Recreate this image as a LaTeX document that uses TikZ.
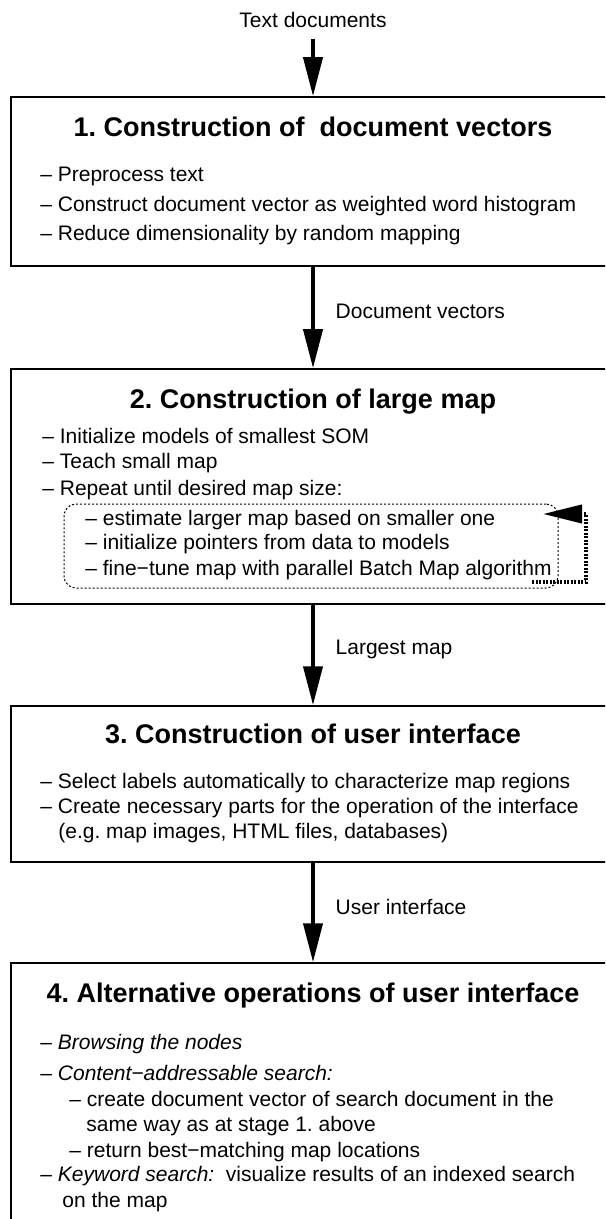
\documentclass[tikz,border=0pt]{standalone}
\usepackage{fontspec}
\setmainfont{Liberation Sans}
\usetikzlibrary{arrows.meta,positioning}
\frenchspacing
\tikzset{
  flowarr/.style={-{Triangle[length=19.5pt,width=9.5pt]}, line width=2pt},
  stagebox/.style={draw, line width=0.75pt, inner sep=0pt},
  stagetitle/.style={font=\fontsize{13.5}{16}\selectfont\bfseries, anchor=base},
  stageitem/.style={font=\fontsize{10.5}{12.5}\selectfont, anchor=base west, inner sep=0pt},
  flowlabel/.style={font=\fontsize{10.5}{12.5}\selectfont, right=7pt, yshift=3pt},
}

\begin{document}
\begin{tikzpicture}[x=0.5pt, y=-0.5pt]
  \clip (0,0) rectangle (605,1219);
  % stage boxes
  \node[stagebox, minimum width=302pt, minimum height=84.5pt] (st1) at (313,181.5) {};
  \node[stagebox, minimum width=302pt, minimum height=117.5pt] (st2) at (313,486.5) {};
  \node[stagebox, minimum width=302pt, minimum height=78pt] (st3) at (313,784) {};
  \node[stagebox, minimum width=302pt, minimum height=138.5pt] (st4) at (313,1101.5) {};

  \node[stagetitle] (t1) at (313,137) {1. Construction of\ \ document vectors};
  \node[stagetitle] (t2) at (313,408) {2. Construction of large map};
  \node[stagetitle] (t3) at (313,743) {3. Construction of user interface};
  \node[stagetitle] (t4) at (313,1002) {4. Alternative operations of user interface};

  \foreach \x/\y/\t [count=\i] in {40/182/{– Preprocess text},
      40/212/{– Construct document vector as weighted word histogram},
      40/241/{– Reduce dimensionality by random mapping}}
    \node[stageitem] (ia\i) at (\x,\y) {\t};
  \foreach \x/\y/\t [count=\i] in {42/443/{– Initialize models of smallest SOM},
      42/468/{– Teach small map},
      42/495/{– Repeat until desired map size:},
      85/525/{– estimate larger map based on smaller one},
      85/549/{– initialize pointers from data to models},
      85/575/{– fine−tune map with parallel Batch Map algorithm}}
    \node[stageitem] (ib\i) at (\x,\y) {\t};
  \foreach \x/\y/\t [count=\i] in {40/788/{– Select labels automatically to characterize map regions},
      40/813/{– Create necessary parts for the operation of the interface},
      58/838/{(e.g. map images, HTML files, databases)}}
    \node[stageitem] (ic\i) at (\x,\y) {\t};
  \foreach \x/\y/\t [count=\i] in {40/1049/{– \textit{Browsing the nodes}},
      40/1080/{– \textit{Content−addressable search:}},
      69/1106/{– create document vector of search document in the},
      86/1131/{same way as at stage 1. above},
      69/1157/{– return best−matching map locations},
      40/1181/{– \textit{Keyword search:}\ \ visualize results of an indexed search},
      62/1207/{on the map}}
    \node[stageitem] (id\i) at (\x,\y) {\t};

  % repeat loop inside stage 2
  \node[draw, line width=0.5pt, dash pattern=on 1pt off 1pt, rounded corners=6pt,
        minimum width=247pt, minimum height=42pt, inner sep=0pt] (rep) at (311,546) {};
  \coordinate (lp1) at (532,582);
  \coordinate (lp2) at (586,514);
  \coordinate (lp3) at (543,514);
  \draw[line width=2pt, dash pattern=on 1pt off 0.75pt, -{Triangle[length=19.5pt,width=9pt]}]
    (lp1) -| (lp2) -- (lp3);

  % flow between stages
  \node[font=\fontsize{10.5}{12.5}\selectfont, anchor=base, inner sep=5pt] (src) at (313,28) {Text documents};
  \draw[flowarr] (src.south) -- (st1.north);
  \draw[flowarr] (st1.south) -- node[flowlabel] (l1) {Document vectors} (st2.north);
  \draw[flowarr] (st2.south) -- node[flowlabel] (l2) {Largest map} (st3.north);
  \draw[flowarr] (st3.south) -- node[flowlabel] (l3) {User interface} (st4.north);
\end{tikzpicture}
\end{document}
